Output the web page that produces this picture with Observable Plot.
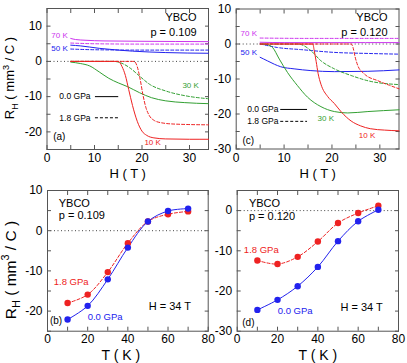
<!DOCTYPE html>
<html><head><meta charset="utf-8">
<script src="https://cdn.jsdelivr.net/npm/d3@7"></script>
<script src="https://cdn.jsdelivr.net/npm/@observablehq/plot@0.6"></script>
<style>
body{margin:0;background:#fff;}
#root{position:relative;width:407px;height:363px;overflow:hidden;font-family:"Liberation Sans",Arial,sans-serif;background:#fff;}
#root svg{position:absolute;overflow:visible;background:transparent !important;}
.ylab{position:absolute;transform:translate(-50%,-50%) rotate(-90deg);white-space:nowrap;color:#000;line-height:1;}
.ylab sub,.ylab sup{font-size:70%;}
</style></head><body><div id="root"></div>
<script>
// ---------- Panel (a): p = 0.109, R_H vs H ----------
const a10K_0 = [[5,0],[8,0],[12,0],[15,0],[15.8,-1.5],[16.5,-4],[17.2,-8],[18,-12.5],[19,-17],[20,-19.8],[21,-21],[22.5,-21.7],[25,-22],[30,-22.1],[34,-22.1]];
const a10K_18 = [[5,0],[10,0],[15,0],[18.3,0],[19,-1.5],[19.6,-5],[20.2,-9.5],[20.8,-13],[21.5,-15.3],[22.5,-16.7],[24,-17.4],[27,-17.8],[34,-18]];
const a30K_0 = [[5,-0.2],[7,-0.6],[9,-1.3],[11,-3],[13,-4.8],[15,-6.1],[17,-7.2],[19.5,-8.9],[22,-10.3],[25,-11.2],[29,-11.7],[34,-12]];
const a30K_18 = [[5,0],[10,0],[14,0],[15.5,-0.4],[17.4,-1.8],[19.5,-4.2],[21.6,-6.5],[25,-8.4],[29.3,-9.8],[34,-10.6]];
const a50K_0 = [[5,4.6],[7,4.4],[11,3.7],[15,3.2],[18,2.9],[25,2.5],[34,2.3]];
const a50K_18 = [[5,3.5],[7,3.4],[10,3.3],[20,3.2],[34,3.2]];
const a70K_0 = [[5,6.5],[6,6.2],[8,6],[12,5.8],[20,5.7],[34,5.6]];
const a70K_18 = [[5,5.2],[10,5],[20,4.9],[34,4.9]];

// ---------- Panel (c): p = 0.120, R_H vs H ----------
const c10K_0 = [[5,0],[10,0],[15,0],[16,0],[16.3,-1.9],[16.7,-5],[17.1,-8.4],[17.7,-11.5],[19.1,-15],[20.5,-17],[22,-19.5],[24,-22],[26,-23.4],[28,-24.2],[31,-24.6],[34,-24.8]];
const c10K_18 = [[5,0],[15,0],[24,0],[24.4,-1],[24.8,-3.5],[25.4,-6.2],[26.8,-8.6],[29.6,-10.5],[32,-11.8],[34,-12.8]];
const c30K_0 = [[5.5,0],[6.5,-0.2],[7.6,-1],[9,-4.3],[10.7,-8.1],[12.8,-11.9],[14.9,-15.2],[17.7,-17.9],[20.5,-19.3],[23.3,-19.7],[27.5,-19.3],[34,-18.8]];
const c30K_18 = [[5,0],[10,0],[13,0],[14,-0.4],[15.6,-1.9],[17.7,-4.8],[20.5,-7.1],[24,-9],[27.5,-10.5],[34,-11.6]];
const c50K_0 = [[5,-3.8],[6.5,-4.8],[8,-5.8],[9.3,-6.5],[12.1,-7.1],[15.6,-7.6],[20.5,-7.9],[27.5,-7.8],[34,-7.4]];
const c50K_18 = [[5,0],[6,-0.3],[8.6,-1],[13.5,-1.6],[20.5,-2.4],[27.5,-2.7],[34,-2.9]];
const c70K_0 = [[5,0.5],[10,0.4],[20,0.4],[34,0.4]];
const c70K_18 = [[5,1.7],[15,1.6],[25,1.6],[34,1.6]];

// ---------- Panels (b), (d): R_H vs T at H = 34 T ----------
const temps = [10,20,30,40,50,60,70];
const b_00 = [-22.1,-18.7,-12.1,-4.2,2.3,4.9,5.5];
const b_18 = [-18,-15.9,-10.3,-3.1,2.3,4.1,4.8];
const d_00 = [-24.7,-22.2,-18.8,-14,-7.6,-2.65,0.2];
const d_18 = [-12.4,-13.3,-11.5,-7.7,-3.1,-0.6,1.2];

// tick sets
const hTicks = [0,5,10,15,20,25,30];
const hLabels = [0,10,20,30];
const tTicks = [0,10,20,30,40,50,60,70,80];
const tLabels = [0,20,40,60,80];

const RED = "#ee2222", GREEN = "#33a033", BLUE = "#2222ee", MAG = "#cc33ee";
const FONT = "Liberation Sans, Arial, sans-serif";
const root = document.getElementById("root");

function frameMarks(xTicks, xLabels, yTicks, yLabels, pad) {
  const fmt = d => String(d);
  const blank = () => "";
  const st = {stroke:"#555", label:null, tickFormat: blank, tickSize:-4};
  return [
    Plot.ruleY([0], {stroke:"#444", strokeDasharray:"1,2.5", strokeWidth:1}),
    Plot.axisX({...st, anchor:"bottom", ticks:xTicks}),
    Plot.axisX({...st, anchor:"top", ticks:xTicks}),
    Plot.axisY({...st, anchor:"left", ticks:yTicks}),
    Plot.axisY({...st, anchor:"right", ticks:yTicks}),
    Plot.axisX({anchor:"bottom", ticks:xLabels, tickSize:0, tickPadding:pad, tickFormat:fmt, fontSize:12, label:null, fill:"#000"}),
    Plot.axisY({anchor:"left", ticks:yLabels, tickSize:0, tickPadding:5, tickFormat:fmt, fontSize:12, label:null, fill:"#000"}),
    Plot.frame({stroke:"#555", strokeWidth:1})
  ];
}

function place(svg, left, top) {
  svg.style.left = left + "px";
  svg.style.top = top + "px";
  root.appendChild(svg);
}

function line(data, color, dashed) {
  return Plot.line(data, {x:d=>d[0], y:d=>d[1], stroke:color, strokeWidth:1, strokeDasharray: dashed ? "3,2" : null, curve:"monotone-x"});
}
function label(items, opts) {
  return Plot.text(items, {x:"x", y:"y", text:"t", fill:"c", textAnchor:"start", lineAnchor:"middle", fontFamily:FONT, ...opts});
}
function legend(items, tx, x1, x2) {
  return [
    Plot.text(items, {x:tx, y:"y", text:"t", textAnchor:"start", lineAnchor:"middle", fontSize:8.5, fill:"#000"}),
    Plot.ruleY([items[0]], {y:"y", x1, x2, stroke:"#000", strokeWidth:1}),
    Plot.ruleY([items[1]], {y:"y", x1, x2, stroke:"#000", strokeWidth:1, strokeDasharray:"3,2"})
  ];
}

// ---- (a) ----
const legA = [{t:"0.0 GPa", y:-10},{t:"1.8 GPa", y:-16}];
const svgA = Plot.plot({
  width:215, height:180, marginLeft:46.5, marginRight:7, marginTop:8, marginBottom:31,
  style:{fontFamily:FONT, background:"transparent"},
  x:{domain:[0,34]}, y:{domain:[-25,15]},
  marks:[
    ...frameMarks(hTicks, hLabels, [-25,-20,-15,-10,-5,0,5,10,15], [-20,-10,0,10], 4),
    line(a70K_0, MAG, false), line(a70K_18, MAG, true),
    line(a50K_0, BLUE, false), line(a50K_18, BLUE, true),
    line(a30K_0, GREEN, false), line(a30K_18, GREEN, true),
    line(a10K_0, RED, false), line(a10K_18, RED, true),
    label([{x:0.9,y:7.5,t:"70 K",c:MAG},{x:0.9,y:3.6,t:"50 K",c:BLUE},{x:28.5,y:-6.8,t:"30 K",c:GREEN},{x:20.5,y:-22.9,t:"10 K",c:RED}], {fontSize:8}),
    label([{x:31.5,y:12.5,t:"YBCO",c:"#000"},{x:31.5,y:8.3,t:"p = 0.109",c:"#000"}], {fontSize:11, textAnchor:"end"}),
    label([{x:1.3,y:-21.5,t:"(a)",c:"#000"}], {fontSize:10}),
    ...legend(legA, 2.6, 10.2, 15.1),
    Plot.text(["H ( T )"], {frameAnchor:"bottom", dy:24, lineAnchor:"middle", fontSize:13, fill:"#000"})
  ]
});
place(svgA, 0, 0);

// ---- (c) ----
const legC = [{t:"0.0 GPa", y:-18.7},{t:"1.8 GPa", y:-22.1}];
const svgC = Plot.plot({
  width:212, height:180, marginLeft:40.7, marginRight:8.5, marginTop:8.5, marginBottom:31.5,
  style:{fontFamily:FONT, background:"transparent"},
  x:{domain:[0,34]}, y:{domain:[-30,10]},
  marks:[
    ...frameMarks(hTicks, hLabels, [-30,-25,-20,-15,-10,-5,0,5,10], [-30,-20,-10,0,10], 4),
    line(c70K_0, MAG, false), line(c70K_18, MAG, true),
    line(c50K_0, BLUE, false), line(c50K_18, BLUE, true),
    line(c30K_0, GREEN, false), line(c30K_18, GREEN, true),
    line(c10K_0, RED, false), line(c10K_18, RED, true),
    label([{x:0.9,y:3,t:"70 K",c:MAG},{x:0.9,y:-2.4,t:"50 K",c:BLUE},{x:17,y:-21.3,t:"30 K",c:GREEN},{x:25.6,y:-26.1,t:"10 K",c:RED}], {fontSize:8}),
    label([{x:31.6,y:7.6,t:"YBCO",c:"#000"},{x:31.6,y:3.3,t:"p = 0.120",c:"#000"}], {fontSize:11, textAnchor:"end"}),
    label([{x:1.3,y:-27.6,t:"(c)",c:"#000"}], {fontSize:10}),
    ...legend(legC, 2.3, 9.3, 14.9),
    Plot.text(["H ( T )"], {frameAnchor:"bottom", dy:24.5, lineAnchor:"middle", fontSize:13, fill:"#000"})
  ]
});
place(svgC, 195, 0);

function tPanel(v0, v18, yTicks, yLabels, p, lab, pos, dx) {
  const pts0 = temps.map((t,i)=>({t, v:v0[i]}));
  const pts18 = temps.map((t,i)=>({t, v:v18[i]}));
  return [
    ...frameMarks(tTicks, tLabels, yTicks, yLabels, 3),
    Plot.line(pts18, {x:"t", y:"v", stroke:RED, strokeWidth:1, strokeDasharray:"3,2", curve:"catmull-rom"}),
    Plot.line(pts0, {x:"t", y:"v", stroke:BLUE, strokeWidth:1, curve:"catmull-rom"}),
    Plot.dot(pts18, {x:"t", y:"v", r:3.2, fill:RED}),
    Plot.dot(pts0, {x:"t", y:"v", r:3.2, fill:BLUE}),
    label([{x:pos.ybco[0],y:pos.ybco[1],t:"YBCO",c:"#000"},{x:pos.ybco[0],y:pos.p,t:p,c:"#000"}], {fontSize:11}),
    label([{x:pos.r18[0],y:pos.r18[1],t:"1.8 GPa",c:RED},{x:pos.r0[0],y:pos.r0[1],t:"0.0 GPa",c:BLUE}], {fontSize:9.5}),
    label([{x:pos.h[0],y:pos.h[1],t:"H = 34 T",c:"#000"}], {fontSize:11}),
    label([{x:pos.lab[0],y:pos.lab[1],t:lab,c:"#000"}], {fontSize:10}),
    Plot.text(["T ( K )"], {frameAnchor:"bottom", dy:24.5, dx, lineAnchor:"middle", fontSize:14, fill:"#000"})
  ];
}

// ---- (b) ----
const svgB = Plot.plot({
  width:215, height:183, marginLeft:47, marginRight:7.3, marginTop:10, marginBottom:32.3,
  style:{fontFamily:FONT, background:"transparent"},
  x:{domain:[0,80]}, y:{domain:[-25,10]},
  marks: tPanel(b_00, b_18, [-25,-20,-15,-10,-5,0,5,10], [-20,-10,0,10], "p = 0.109", "(b)",
    {ybco:[5.6,6.7], p:3.8, r18:[3.1,-12.8], r0:[20,-21.5], h:[50.4,-18.9], lab:[1.2,-22.3]}, -7)
});
place(svgB, 0, 180);

// ---- (d) ----
const svgD = Plot.plot({
  width:212, height:183, marginLeft:41.7, marginRight:9, marginTop:10, marginBottom:32.3,
  style:{fontFamily:FONT, background:"transparent"},
  x:{domain:[0,80]}, y:{domain:[-30,5]},
  marks: tPanel(d_00, d_18, [-30,-25,-20,-15,-10,-5,0,5], [-30,-20,-10,0], "p = 0.120", "(d)",
    {ybco:[5.8,1.7], p:-1.5, r18:[3.3,-9.9], r0:[20.1,-24.9], h:[51.2,-24.1], lab:[2.5,-27.8]}, 0)
});
place(svgD, 195, 180);

// y-axis titles
function ylab(x, y, size) {
  const d = document.createElement("div");
  d.className = "ylab";
  d.style.left = x + "px"; d.style.top = y + "px"; d.style.fontSize = size + "px";
  d.innerHTML = "R<sub>H</sub> ( mm<sup>3</sup> / C )";
  root.appendChild(d);
}
ylab(11, 78, 13);
ylab(11, 270, 15.5);
</script></body></html>
